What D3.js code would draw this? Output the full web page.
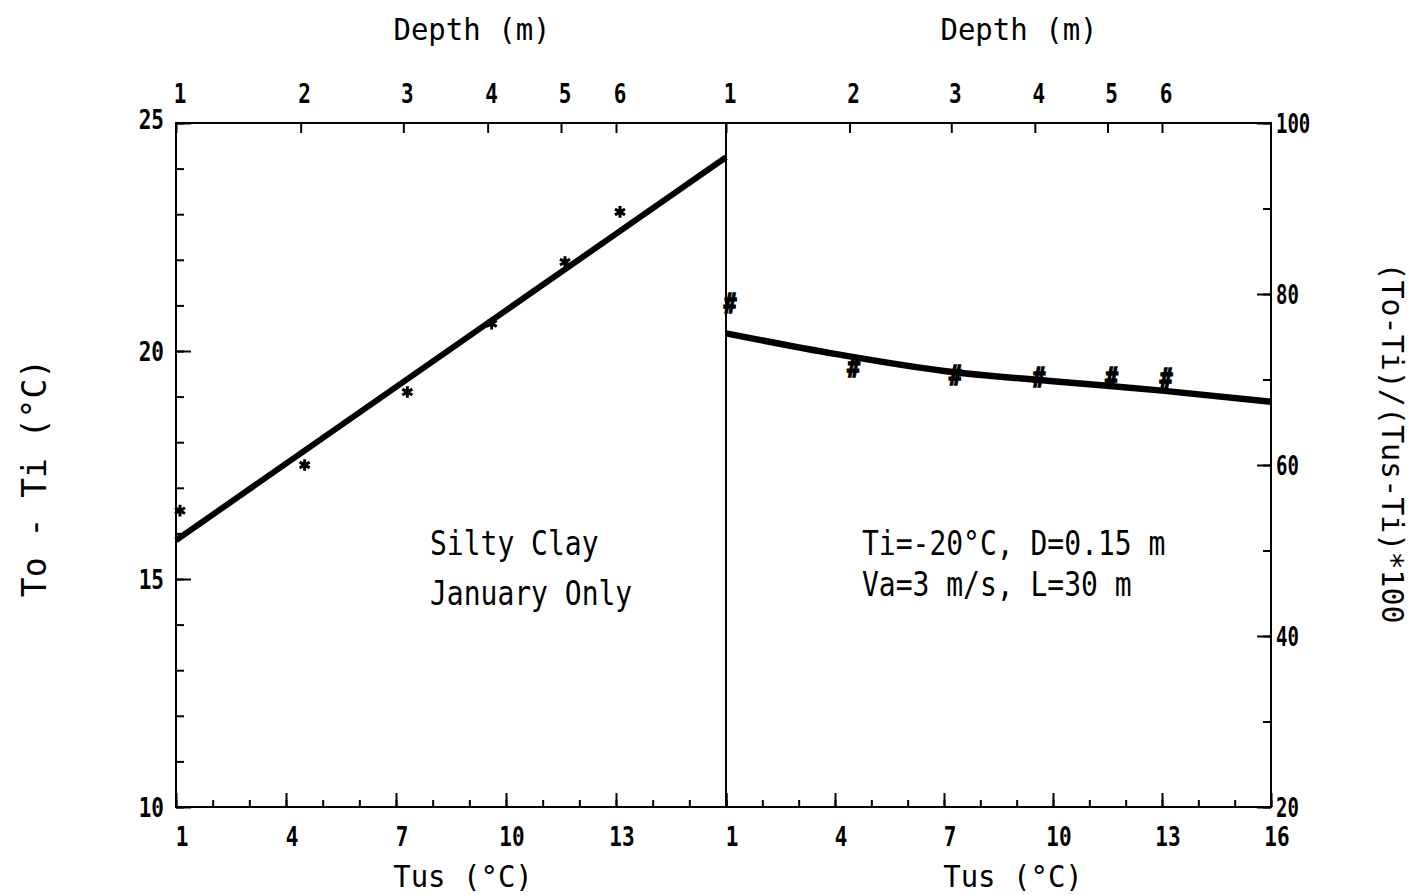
<!DOCTYPE html>
<html>
<head>
<meta charset="utf-8">
<script src="https://cdn.jsdelivr.net/npm/d3@7"></script>
<style>
  body { margin: 0; background: #fff; }
  svg { display: block; }
  .tick line { stroke: #000; stroke-width: 2; }
  text { font-family: "DejaVu Sans Mono", monospace; fill: #000; }
</style>
</head>
<body>
<svg id="chart" width="1414" height="895"></svg>
<script>
// ---- data ----
var tusMajor = [1, 4, 7, 10, 13, 16];
var tusMinor = d3.range(1, 17);
var tusLabelsLeft = [1, 4, 7, 10, 13];
var tusLabelsRight = [1, 4, 7, 10, 13, 16];
var depthLabels = [1, 2, 3, 4, 5, 6];
var depthTus = [1.0, 4.4, 7.2, 9.5, 11.5, 13.0];      // Tus at each depth

var diffTicks = [10, 15, 20, 25];
var diffMinor = d3.range(10, 26);
var diffObs = [16.5, 17.5, 19.1, 20.6, 21.95, 23.05];   // To - Ti, asterisks
var diffFit = [[1, 15.85], [16, 24.25]];

var ratioTicks = [20, 40, 60, 80, 100];
var ratioMinor = d3.range(20, 101, 10);
var ratioObs = [78.9, 71.5, 70.5, 70.3, 70.3, 70.2];    // (To-Ti)/(Tus-Ti)*100
var ratioFit = [[1, 75.4], [4, 73.0], [7, 71.0], [10, 69.8], [13, 68.7], [16, 67.4]];

// ---- layout ----
var plotL = 176, plotM = 726, plotR = 1271, plotT = 123, plotB = 807;

var svg = d3.select("#chart");

var xL = d3.scaleLinear().domain([1, 16]).range([plotL, plotM]);
var xR = d3.scaleLinear().domain([1, 16]).range([plotM, plotR]);
var yL = d3.scaleLinear().domain([10, 25]).range([plotB, plotT]);
var yR = d3.scaleLinear().domain([20, 100]).range([plotB, plotT]);

// plotter-ish text: narrow, tall glyphs
function label(x, y, txt, size, anchor, sy, weight) {
  return svg.append("text")
    .attr("transform", "translate(" + x + "," + y + ") scale(1," + sy + ")")
    .attr("text-anchor", anchor || "start")
    .style("font-size", size + "px")
    .style("font-weight", weight || "normal")
    .text(txt);
}

function ticks(axis, tx, ty) {
  var g = svg.append("g").attr("transform", "translate(" + tx + "," + ty + ")").call(axis);
  g.select(".domain").remove();
  g.selectAll("text").remove();
  return g;
}

// bottom ticks (inward) and depth ticks on top, both panels
[[xL, tusLabelsLeft], [xR, tusLabelsRight]].forEach(function (p) {
  var x = p[0];
  ticks(d3.axisBottom(x).tickValues(tusMinor).tickSize(-7), 0, plotB);
  ticks(d3.axisBottom(x).tickValues(tusMajor).tickSize(-14), 0, plotB);
  p[1].forEach(function (v) {
    label(x(v) + 6, 846, v, 21, "middle", 1.3, "bold");
  });
  ticks(d3.axisTop(x).tickValues(depthTus).tickSize(-10), 0, plotT);
  depthTus.forEach(function (v, i) {
    label(x(v) + 4, 103, depthLabels[i], 21, "middle", 1.3, "bold");
  });
});

// left axis
ticks(d3.axisLeft(yL).tickValues(diffMinor).tickSize(-8), plotL, 0);
ticks(d3.axisLeft(yL).tickValues(diffTicks).tickSize(-15), plotL, 0);
diffTicks.forEach(function (v) {
  label(164, yL(v) + (v === 25 ? 6 : 10), v, 21, "end", 1.3, "bold");
});

// right axis
ticks(d3.axisRight(yR).tickValues(ratioMinor).tickSize(-8), plotR, 0);
ticks(d3.axisRight(yR).tickValues(ratioTicks).tickSize(-14), plotR, 0);
ratioTicks.forEach(function (v) {
  label(1276, yR(v) + 10, v, 19, "start", 1.4, "bold");
});

// frame
svg.append("rect")
  .attr("x", plotL).attr("y", plotT)
  .attr("width", plotR - plotL).attr("height", plotB - plotT)
  .attr("fill", "none").attr("stroke", "#000").attr("stroke-width", 2);
svg.append("line")
  .attr("x1", plotM).attr("x2", plotM).attr("y1", plotT).attr("y2", plotB)
  .attr("stroke", "#000").attr("stroke-width", 2);

// fitted curves
svg.append("path")
  .datum(diffFit)
  .attr("d", d3.line().x(function (d) { return xL(d[0]); }).y(function (d) { return yL(d[1]); }))
  .attr("fill", "none").attr("stroke", "#000").attr("stroke-width", 6);

svg.append("path")
  .datum(ratioFit)
  .attr("d", d3.line().curve(d3.curveMonotoneX)
    .x(function (d) { return xR(d[0]); }).y(function (d) { return yR(d[1]); }))
  .attr("fill", "none").attr("stroke", "#000").attr("stroke-width", 6.5);

// observed points
var star = d3.symbol().type(d3.symbolAsterisk).size(95);
svg.selectAll(".star").data(diffObs).enter().append("path")
  .attr("class", "star")
  .attr("transform", function (d, i) { return "translate(" + (xL(depthTus[i]) + 4) + "," + yL(d) + ")"; })
  .attr("d", star)
  .attr("fill", "none").attr("stroke", "#000").attr("stroke-width", 3);

svg.selectAll(".hash").data(ratioObs).enter().append("text")
  .attr("class", "hash")
  .attr("transform", function (d, i) { return "translate(" + (xR(depthTus[i]) + 4) + "," + (yR(d) + 10) + ") scale(1,1.3)"; })
  .attr("text-anchor", "middle")
  .style("font-size", "21px").style("font-weight", "bold")
  .style("stroke", "#000").style("stroke-width", 1.2)
  .text("#");

// titles
label(472, 40, "Depth (m)", 29, "middle", 1.05);
label(1019, 40, "Depth (m)", 29, "middle", 1.05);
label(463, 887, "Tus (°C)", 29, "middle", 1.05);
label(1013, 887, "Tus (°C)", 29, "middle", 1.05);

svg.append("text")
  .attr("transform", "translate(46,478) rotate(-90)")
  .attr("text-anchor", "middle")
  .style("font-size", "33px")
  .text("To - Ti (°C)");

svg.append("text")
  .attr("transform", "translate(1382,443) rotate(90)")
  .attr("text-anchor", "middle")
  .style("font-size", "30px")
  .text("(To-Ti)/(Tus-Ti)*100");

// annotations
label(430, 555, "Silty Clay", 28, "start", 1.18);
label(430, 605, "January Only", 28, "start", 1.18);
label(862, 555, "Ti=-20°C, D=0.15 m", 28, "start", 1.18);
label(862, 596, "Va=3 m/s, L=30 m", 28, "start", 1.18);
</script>
</body>
</html>
